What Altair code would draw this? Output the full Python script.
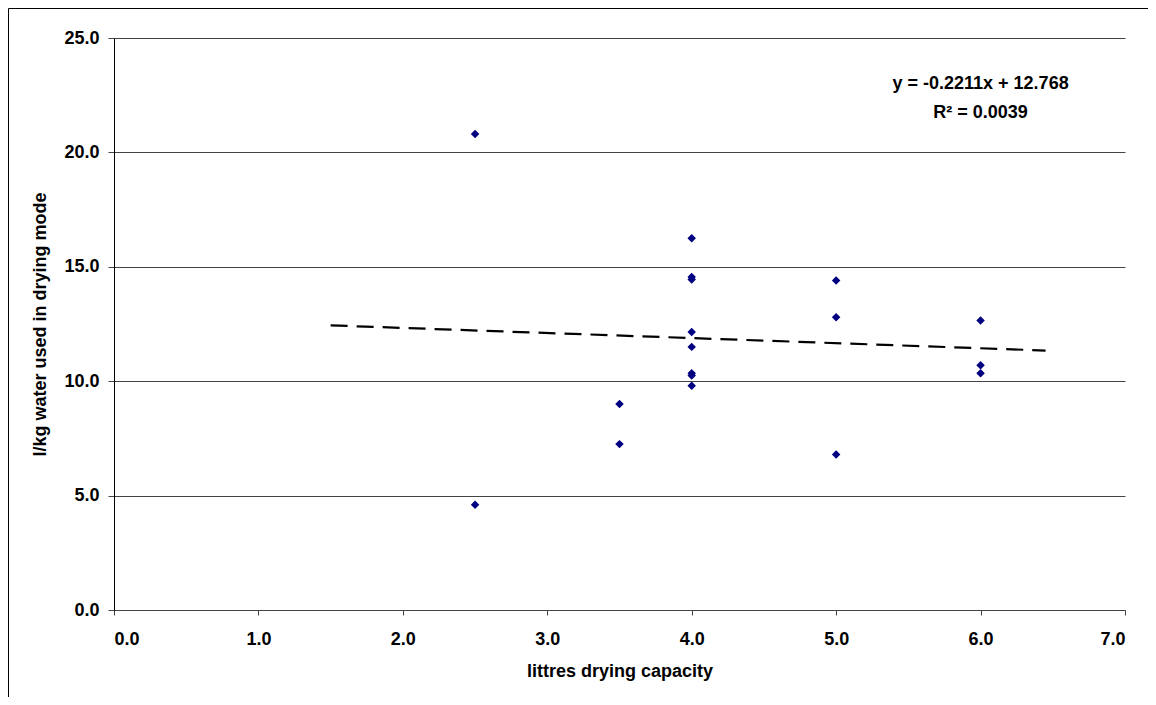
import altair as alt
import pandas as pd

# Data
capacity = [2.5, 2.5, 3.5, 3.5, 4.0, 4.0, 4.0, 4.0, 4.0, 4.0, 4.0, 4.0, 5.0, 5.0, 5.0, 6.0, 6.0, 6.0]
water = [20.8, 4.6, 9.0, 7.25, 16.25, 14.55, 14.45, 12.15, 11.5, 10.35, 10.25, 9.8, 14.4, 12.8, 6.8, 12.65, 10.7, 10.35]

trend_x = [1.5, 6.45]
trend_y = [12.44, 11.34]

eq_text = ["y = -0.2211x + 12.768", "R² = 0.0039"]
eq_x = [6.0, 6.0]
eq_y = [23.0, 21.72]

x_ticks = [0, 1, 2, 3, 4, 5, 6, 7]
y_ticks = [0, 5, 10, 15, 20, 25]

FONT = "Liberation Sans"

pts = pd.DataFrame({"cap": capacity, "water": water})
trend = pd.DataFrame({"cap": trend_x, "water": trend_y})
eq = pd.DataFrame({"cap": eq_x, "water": eq_y, "txt": eq_text})
one = pd.DataFrame({"a": [0]})

xscale = alt.Scale(domain=[0, 7], nice=False, zero=False)
yscale = alt.Scale(domain=[0, 25], nice=False, zero=False)

xaxis = alt.Axis(
    values=x_ticks, format=".1f", grid=False, tickSize=5, tickColor="#444",
    domainColor="#444", labelFontSize=18, labelFontWeight="bold", labelFont=FONT,
    labelColor="black", labelPadding=15, title="littres drying capacity",
    titleFontSize=18, titleFont=FONT, titleFontWeight="bold", titleColor="black",
    titlePadding=14,
)
yaxis = alt.Axis(
    values=y_ticks, format=".1f", grid=True, gridColor="#444", gridWidth=1,
    tickSize=6, tickColor="#444", domainColor="black", labelFontSize=18,
    labelFontWeight="bold", labelFont=FONT, labelColor="black", labelPadding=9,
    title="l/kg water used in drying mode", titleFontSize=18, titleFont=FONT,
    titleFontWeight="bold", titleColor="black", titlePadding=14,
)

# outer chart frame (left and top edges only are visible in the reference)
frame_left = alt.Chart(one).mark_rule(color="black", strokeWidth=1).encode(
    x=alt.value(-105.5), y=alt.value(-29.5), y2=alt.value(900)
)
frame_top = alt.Chart(one).mark_rule(color="black", strokeWidth=1).encode(
    x=alt.value(-105.5), x2=alt.value(1300), y=alt.value(-29.5)
)

points = alt.Chart(pts).mark_point(
    shape="diamond", filled=True, color="#000080", size=72, opacity=1
).encode(
    x=alt.X("cap:Q", scale=xscale, axis=xaxis),
    y=alt.Y("water:Q", scale=yscale, axis=yaxis),
)

line = alt.Chart(trend).mark_line(
    color="black", strokeWidth=2.2, strokeDash=[17, 9]
).encode(
    x=alt.X("cap:Q", scale=xscale),
    y=alt.Y("water:Q", scale=yscale),
)

text = alt.Chart(eq).mark_text(
    font=FONT, fontSize=18, fontWeight="bold", color="black",
    align="center", baseline="middle"
).encode(
    x=alt.X("cap:Q", scale=xscale),
    y=alt.Y("water:Q", scale=yscale),
    text="txt:N",
)

chart = alt.layer(frame_left, frame_top, points, line, text).properties(
    width=1011, height=572,
    autosize=alt.AutoSizeParams(type="none"),
    padding={"left": 106, "top": 30, "right": 23, "bottom": 87},
    background="white",
).configure_view(stroke=None)

chart.save("out.html", embed_options={"renderer": "svg", "actions": False})
